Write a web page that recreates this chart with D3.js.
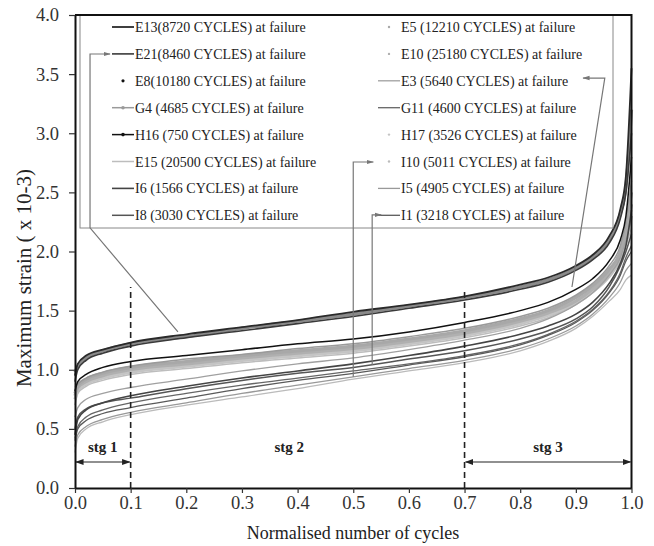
<!DOCTYPE html>
<html>
<head>
<meta charset="utf-8">
<script src="https://cdn.jsdelivr.net/npm/d3@7"></script>
<style>
  body { margin: 0; background: #fff; }
  text { font-family: "Liberation Serif", "Times New Roman", serif; fill: #222; }
</style>
</head>
<body>
<div id="chart"></div>
<script>
//************************** data ******************************

var cycles = [0, 0.005, 0.02, 0.05, 0.1, 0.2, 0.3, 0.4, 0.5, 0.6, 0.7, 0.8, 0.85, 0.9, 0.93, 0.96, 0.98, 0.99, 1.0];

var names = ['E13(8720 CYCLES) at failure', 'E21(8460 CYCLES) at failure', 'E8(10180 CYCLES) at failure',
  'G4 (4685 CYCLES) at failure', 'H16 (750 CYCLES) at failure', 'E15 (20500 CYCLES) at failure',
  'I6 (1566 CYCLES) at failure', 'I8 (3030 CYCLES) at failure',
  'E5 (12210 CYCLES) at failure', 'E10 (25180 CYCLES) at failure', 'E3 (5640 CYCLES) at failure',
  'G11 (4600 CYCLES) at failure', 'H17 (3526 CYCLES) at failure', 'I10 (5011 CYCLES) at failure',
  'I5 (4905 CYCLES) at failure', 'I1 (3218 CYCLES) at failure'];

// maximum strain (x 10-3) for each specimen
var e13 = [0.95, 1.05, 1.12, 1.17, 1.23, 1.30, 1.36, 1.42, 1.49, 1.55, 1.62, 1.72, 1.78, 1.88, 1.97, 2.13, 2.36, 2.64, 3.55];
var e21 = [0.90, 1.00, 1.08, 1.14, 1.20, 1.27, 1.33, 1.39, 1.45, 1.52, 1.59, 1.68, 1.74, 1.84, 1.93, 2.07, 2.28, 2.50, 3.00];
var e8  = [0.98, 1.03, 1.10, 1.16, 1.22, 1.28, 1.35, 1.41, 1.47, 1.54, 1.61, 1.70, 1.76, 1.86, 1.95, 2.10, 2.32, 2.55, 3.20];
var g4  = [0.85, 0.88, 0.93, 0.98, 1.03, 1.09, 1.13, 1.18, 1.22, 1.28, 1.35, 1.45, 1.52, 1.63, 1.73, 1.88, 2.05, 2.25, 2.60];
var h16 = [0.82, 0.90, 0.96, 1.02, 1.07, 1.12, 1.17, 1.22, 1.26, 1.32, 1.40, 1.50, 1.57, 1.68, 1.77, 1.92, 2.10, 2.30, 2.80];
var e15 = [0.70, 0.80, 0.86, 0.91, 0.96, 1.01, 1.06, 1.10, 1.14, 1.20, 1.27, 1.37, 1.44, 1.55, 1.65, 1.78, 1.92, 2.05, 2.20];
var i6  = [0.45, 0.58, 0.66, 0.72, 0.78, 0.86, 0.93, 0.99, 1.05, 1.12, 1.20, 1.30, 1.37, 1.47, 1.57, 1.73, 1.90, 2.05, 2.35];
var i8  = [0.50, 0.60, 0.67, 0.72, 0.76, 0.84, 0.91, 0.97, 1.02, 1.09, 1.16, 1.26, 1.33, 1.43, 1.53, 1.70, 1.88, 2.00, 2.15];
var e5  = [0.80, 0.86, 0.92, 0.97, 1.02, 1.07, 1.12, 1.16, 1.20, 1.26, 1.33, 1.43, 1.50, 1.61, 1.71, 1.85, 2.00, 2.20, 2.50];
var e10 = [0.78, 0.85, 0.90, 0.95, 1.00, 1.05, 1.10, 1.14, 1.18, 1.24, 1.31, 1.41, 1.48, 1.58, 1.68, 1.82, 1.97, 2.15, 2.40];
var e3  = [0.60, 0.68, 0.75, 0.80, 0.85, 0.92, 0.99, 1.05, 1.10, 1.17, 1.25, 1.35, 1.43, 1.55, 1.65, 1.80, 1.95, 2.10, 2.30];
var g11 = [0.42, 0.52, 0.60, 0.66, 0.72, 0.80, 0.87, 0.93, 0.99, 1.05, 1.12, 1.22, 1.30, 1.41, 1.51, 1.66, 1.82, 1.95, 2.05];
var h17 = [0.75, 0.82, 0.88, 0.93, 0.98, 1.03, 1.08, 1.12, 1.16, 1.22, 1.29, 1.39, 1.46, 1.56, 1.66, 1.80, 1.95, 2.10, 2.30];
var i10 = [0.30, 0.42, 0.50, 0.56, 0.62, 0.70, 0.77, 0.84, 0.92, 0.99, 1.06, 1.16, 1.24, 1.35, 1.45, 1.58, 1.68, 1.76, 1.80];
var i5  = [0.35, 0.45, 0.52, 0.58, 0.64, 0.72, 0.80, 0.87, 0.94, 1.01, 1.08, 1.18, 1.26, 1.37, 1.47, 1.61, 1.74, 1.84, 1.90];
var i1  = [0.40, 0.50, 0.57, 0.63, 0.68, 0.76, 0.84, 0.91, 0.97, 1.04, 1.11, 1.21, 1.29, 1.40, 1.50, 1.65, 1.80, 1.92, 2.00];

var strains = [e13, e21, e8, g4, h16, e15, i6, i8, e5, e10, e3, g11, h17, i10, i5, i1];

var x_ticks = [0, 0.1, 0.2, 0.3, 0.4, 0.5, 0.6, 0.7, 0.8, 0.9, 1.0];
var y_ticks = [0, 0.5, 1.0, 1.5, 2.0, 2.5, 3.0, 3.5, 4.0];

// stage boundaries and labels
var stages = [[0, 0.1, 'stg 1'], [0.1, 0.7, 'stg 2'], [0.7, 1.0, 'stg 3']];

//************************** drawing ******************************

var chart_width = 654;
var chart_height = 546;

// line look for each series: stroke colour, width, legend kind
var looks = [
  ['#2a2a2a', 1.8, 'line'], ['#3a3a3a', 1.6, 'line'], ['#8a8a8a', 3.2, 'dot'],
  ['#9a9a9a', 1.5, 'mark'], ['#111', 1.5, 'mark'], ['#bdbdbd', 1.5, 'line'],
  ['#444', 1.6, 'line'], ['#555', 1.5, 'line'],
  ['#a8a8a8', 3.2, 'dot'], ['#b0b0b0', 3.2, 'dot'], ['#a0a0a0', 1.3, 'line'],
  ['#666', 1.3, 'line'], ['#c4c4c4', 3.2, 'dot'], ['#bbb', 1.3, 'dot'],
  ['#999', 1.3, 'line'], ['#5a5a5a', 1.3, 'line']
];

var svg = d3.select('#chart')
  .append('svg')
  .attr('width', chart_width)
  .attr('height', chart_height);

var x_scale = d3.scaleLinear().domain([0, 1]).range([75, 631.5]);
var y_scale = d3.scaleLinear().domain([0, 4]).range([488, 15]);

svg.append('defs').append('marker')
  .attr('id', 'arr')
  .attr('viewBox', '0 0 10 10')
  .attr('refX', 9).attr('refY', 5)
  .attr('markerWidth', 7).attr('markerHeight', 7)
  .attr('orient', 'auto-start-reverse')
  .append('path')
  .attr('d', 'M0,1.5 L10,5 L0,8.5 Z')
  .attr('fill', '#222');

svg.select('defs').append('marker')
  .attr('id', 'garr')
  .attr('viewBox', '0 0 10 10')
  .attr('refX', 9).attr('refY', 5)
  .attr('markerWidth', 6).attr('markerHeight', 6)
  .attr('orient', 'auto')
  .append('path')
  .attr('d', 'M0,2 L10,5 L0,8 Z')
  .attr('fill', '#777');

// curves, lighter ones first so dark ones sit on top
var line = d3.line()
  .x(function(d, i) { return x_scale(cycles[i]); })
  .y(function(d) { return y_scale(d); })
  .curve(d3.curveMonotoneX);

var order = [12, 9, 8, 13, 5, 10, 14, 3, 11, 15, 7, 6, 2, 4, 1, 0];
svg.append('g')
  .selectAll('path')
  .data(order)
  .enter()
  .append('path')
  .attr('d', function(k) { return line(strains[k]); })
  .attr('fill', 'none')
  .attr('stroke', function(k) { return looks[k][0]; })
  .attr('stroke-width', function(k) { return looks[k][1]; });

// legend box
svg.append('rect')
  .attr('x', 80).attr('y', 15)
  .attr('width', 533).attr('height', 213)
  .attr('fill', 'none')
  .attr('stroke', '#888')
  .attr('stroke-width', 1);

var legend = svg.append('g')
  .selectAll('g')
  .data(names)
  .enter()
  .append('g')
  .attr('transform', function(d, i) {
    var col = Math.floor(i / 8), row = i % 8;
    return 'translate(' + (col ? 378 : 112) + ',' + (27 + row * 26.9) + ')';
  });

legend.each(function(d, i) {
  var g = d3.select(this), lk = looks[i];
  if (lk[2] === 'dot') {
    g.append('circle').attr('cx', 11).attr('cy', 0)
      .attr('r', i === 2 ? 1.6 : 1.2).attr('fill', i === 2 ? '#111' : lk[0]);
  } else {
    g.append('line').attr('x1', 0).attr('x2', 22).attr('y1', 0).attr('y2', 0)
      .attr('stroke', lk[0]).attr('stroke-width', Math.min(lk[1], 2));
    if (lk[2] === 'mark') {
      g.append('circle').attr('cx', 11).attr('cy', 0).attr('r', 1.8).attr('fill', lk[0]);
    }
  }
  g.append('text')
    .attr('x', 23).attr('y', 5)
    .style('font-size', '14px')
    .text(d);
});

// leader lines from legend to curves (data units)
var leaders = [
  [[0.185, 1.32], [0.027, 2.20], [0.027, 3.67], [0.063, 3.67]],
  [[0.50, 0.94], [0.50, 2.757], [0.536, 2.757]],
  [[0.534, 1.04], [0.534, 2.31], [0.550, 2.31]],
  [[0.893, 1.70], [0.952, 3.467], [0.913, 3.467]]
];
var leader_line = d3.line()
  .x(function(d) { return x_scale(d[0]); })
  .y(function(d) { return y_scale(d[1]); });
svg.append('g')
  .selectAll('path')
  .data(leaders)
  .enter()
  .append('path')
  .attr('d', leader_line)
  .attr('fill', 'none')
  .attr('stroke', '#777')
  .attr('stroke-width', 1.2)
  .attr('marker-end', 'url(#garr)');

// stage dividers
svg.selectAll('.divider')
  .data([[0.1, 1.7], [0.7, 1.68]])
  .enter()
  .append('line')
  .attr('class', 'divider')
  .attr('x1', function(d) { return x_scale(d[0]); })
  .attr('x2', function(d) { return x_scale(d[0]); })
  .attr('y1', y_scale(0))
  .attr('y2', function(d) { return y_scale(d[1]); })
  .attr('stroke', '#222')
  .attr('stroke-width', 1.6)
  .attr('stroke-dasharray', '6,4');

// stage arrows (stg 2 has none)
svg.selectAll('.stg-arrow')
  .data([stages[0], stages[2]])
  .enter()
  .append('line')
  .attr('class', 'stg-arrow')
  .attr('x1', function(d) { return x_scale(d[0]) + 1; })
  .attr('x2', function(d) { return x_scale(d[1]) - 1; })
  .attr('y1', y_scale(0.22))
  .attr('y2', y_scale(0.22))
  .attr('stroke', '#222')
  .attr('stroke-width', 1.2)
  .attr('marker-start', 'url(#arr)')
  .attr('marker-end', 'url(#arr)');

svg.selectAll('.stg-label')
  .data(stages)
  .enter()
  .append('text')
  .attr('class', 'stg-label')
  .attr('x', function(d, i) { return i === 1 ? x_scale(0.385) : x_scale((d[0] + d[1]) / 2); })
  .attr('y', y_scale(0.22) - 10)
  .attr('text-anchor', 'middle')
  .style('font-size', '15px')
  .style('font-weight', 'bold')
  .text(function(d) { return d[2]; });

// axes
var x_axis = d3.axisBottom(x_scale)
  .tickValues(x_ticks)
  .tickFormat(d3.format('.1f'))
  .tickSizeInner(5).tickSizeOuter(0).tickPadding(3);
var xg = svg.append('g')
  .attr('transform', 'translate(0,488)')
  .call(x_axis);

var y_axis = d3.axisLeft(y_scale)
  .tickValues(y_ticks)
  .tickFormat(d3.format('.1f'))
  .tickSizeInner(6).tickSizeOuter(0).tickPadding(10);
var yg = svg.append('g')
  .attr('transform', 'translate(75,0)')
  .call(y_axis);

[xg, yg].forEach(function(g) {
  g.select('.domain').attr('stroke', '#111').attr('stroke-width', 2);
  g.selectAll('.tick line').attr('stroke', '#333').attr('stroke-width', 1.2);
  g.selectAll('.tick text')
    .style('font-family', '"Liberation Serif", serif')
    .style('font-size', '18.5px')
    .style('fill', '#333');
});

// top and right frame
svg.append('path')
  .attr('d', 'M' + x_scale(0) + ',' + y_scale(4) + 'H' + x_scale(1) + 'V' + y_scale(0))
  .attr('fill', 'none')
  .attr('stroke', '#111')
  .attr('stroke-width', 2);

// axis titles
svg.append('text')
  .attr('x', 353)
  .attr('y', 539)
  .attr('text-anchor', 'middle')
  .style('font-size', '18px')
  .text('Normalised number of cycles');

svg.append('text')
  .attr('transform', 'translate(31,278) rotate(-90)')
  .attr('text-anchor', 'middle')
  .style('font-size', '21px')
  .text('Maximum strain ( x 10-3)');
</script>
</body>
</html>
